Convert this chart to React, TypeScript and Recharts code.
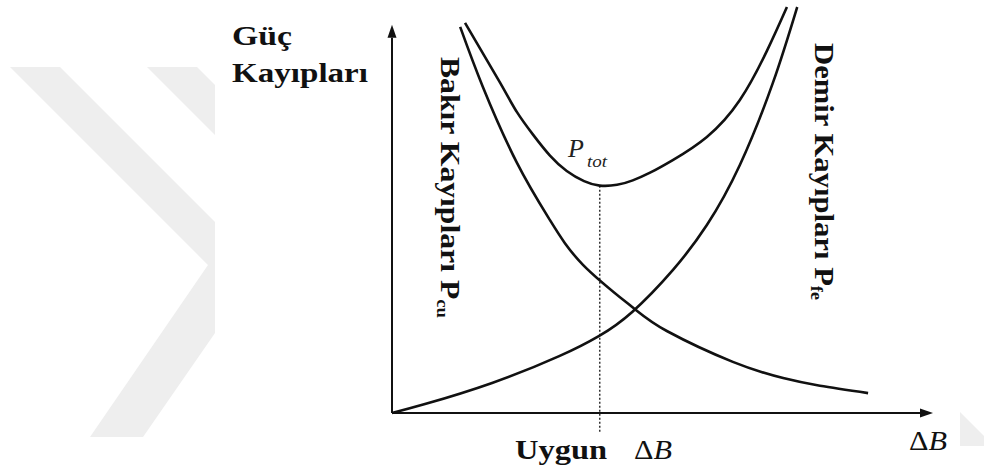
import React from "react";
import { LineChart, Line, XAxis, YAxis, ReferenceLine } from "recharts";

// ΔB along the horizontal axis (0-100) and losses up the vertical axis (0-100)
const copperX = [12.6, 16.8, 23.1, 29.2, 35.3, 44.4, 50.8, 63.0, 72.3, 79.1, 88.0];
const copperY = [95.1, 80.3, 61.6, 47.5, 36.5, 26.1, 20.2, 12.6, 8.6, 6.7, 4.9];

const ironX = [0, 6.1, 18.5, 30.9, 38.3, 44.4, 51.9, 58.2, 64.3, 70.4, 74.9];
const ironY = [0, 2.2, 7.4, 14.0, 19.0, 24.9, 35.2, 46.3, 61.1, 81.3, 100];

const totalX = [13.5, 20.0, 23.1, 26.1, 29.2, 32.3, 35.5, 38.4, 41.6, 44.5, 47.7, 51.9, 58.2, 64.3, 69.3, 73.0];
const totalY = [96.1, 81.3, 74.1, 68.5, 63.4, 59.6, 57.1, 56.0, 56.2, 57.3, 59.2, 62.3, 68.0, 77.1, 89.2, 100];

const optimumIndex = 7; // lowest point of P_tot
const yAxisTop = 95.6;
const xAxisEnd = 100;
const dottedBottom = -4.9;

const toPoints = (xs: number[], ys: number[]) => xs.map((x, i) => ({ x, y: ys[i] }));

const copperData = toPoints(copperX, copperY);
const ironData = toPoints(ironX, ironY);
const totalData = toPoints(totalX, totalY);

const INK = "#111";
const SERIF = '"Liberation Serif", "Times New Roman", serif';

// axis line with a filled arrow head at the far end
const ArrowLine = (props: any) => {
  const { x1, y1, x2, y2 } = props;
  const ang = Math.atan2(y2 - y1, x2 - x1);
  const len = 13;
  const half = 4.5;
  const bx = x2 - len * Math.cos(ang);
  const by = y2 - len * Math.sin(ang);
  const px = -Math.sin(ang) * half;
  const py = Math.cos(ang) * half;
  return (
    <g>
      <line x1={x1} y1={y1} x2={bx} y2={by} stroke={INK} strokeWidth={2} />
      <polygon
        points={`${x2},${y2} ${bx + px},${by + py} ${bx - px},${by - py}`}
        fill={INK}
      />
    </g>
  );
};

export default function App() {
  return (
    <div
      style={{
        position: "absolute",
        left: 0,
        top: 0,
        width: 984,
        height: 476,
        background: "#fff",
        fontFamily: SERIF,
      }}
    >
      {/* faint watermark behind the figure */}
      <svg width={984} height={476} style={{ position: "absolute", left: 0, top: 0 }}>
        <polygon points="10,67 60,67 215,222 215,333 143,437 90,437 208,265" fill="#eeeeee" />
        <polygon points="147,67 197,67 215,85 215,135" fill="#eeeeee" />
        <polygon points="960,412 984,436 984,446 960,446" fill="#eeeeee" />
      </svg>

      <div style={{ position: "absolute", left: 0, top: 0 }}>
        <LineChart
          width={984}
          height={476}
          margin={{ top: 7, right: 51, bottom: 63, left: 392 }}
        >
          <XAxis dataKey="x" type="number" domain={[0, 100]} hide />
          <YAxis type="number" domain={[0, 100]} hide />

          <ReferenceLine
            segment={[{ x: 0, y: 0 }, { x: xAxisEnd, y: 0 }]}
            shape={ArrowLine}
            ifOverflow="visible"
          />
          <ReferenceLine
            segment={[{ x: 0, y: 0 }, { x: 0, y: yAxisTop }]}
            shape={ArrowLine}
            ifOverflow="visible"
          />
          <ReferenceLine
            segment={[
              { x: totalX[optimumIndex], y: totalY[optimumIndex] },
              { x: totalX[optimumIndex], y: dottedBottom },
            ]}
            stroke="#333"
            strokeWidth={1.5}
            strokeDasharray="2 2"
            ifOverflow="visible"
          />

          <Line data={copperData} dataKey="y" type="natural" stroke={INK} strokeWidth={2.6} dot={false} isAnimationActive={false} />
          <Line data={ironData} dataKey="y" type="natural" stroke={INK} strokeWidth={2.6} dot={false} isAnimationActive={false} />
          <Line data={totalData} dataKey="y" type="natural" stroke={INK} strokeWidth={2.6} dot={false} isAnimationActive={false} />
        </LineChart>
      </div>

      <svg
        width={984}
        height={476}
        style={{ position: "absolute", left: 0, top: 0, pointerEvents: "none" }}
        fontFamily={SERIF}
        fill={INK}
      >
        <text x={232} y={45} fontSize={27} fontWeight="bold" textLength={60} lengthAdjust="spacingAndGlyphs">
          Güç
        </text>
        <text x={232} y={82} fontSize={27} fontWeight="bold" textLength={136} lengthAdjust="spacingAndGlyphs">
          Kayıpları
        </text>

        <text
          transform="translate(441,57) rotate(90)"
          fontSize={27}
          fontWeight="bold"
          textLength={261}
          lengthAdjust="spacingAndGlyphs"
        >
          Bakır Kayıpları P
          <tspan fontSize={16} dy={4}>cu</tspan>
        </text>
        <text
          transform="translate(815,43) rotate(90)"
          fontSize={27}
          fontWeight="bold"
          textLength={257}
          lengthAdjust="spacingAndGlyphs"
        >
          Demir Kayıpları P
          <tspan fontSize={16} dy={4}>fe</tspan>
        </text>

        <text x={568} y={157} fontSize={26} fontStyle="italic" fill="#222">
          P
        </text>
        <text x={587} y={167} fontSize={16} fontStyle="italic" fill="#222" textLength={20} lengthAdjust="spacingAndGlyphs">
          tot
        </text>

        <text x={515} y={459} fontSize={27} fontWeight="bold" textLength={92} lengthAdjust="spacingAndGlyphs">
          Uygun
        </text>
        <text x={634} y={459} fontSize={27} textLength={38} lengthAdjust="spacingAndGlyphs">
          Δ<tspan fontStyle="italic">B</tspan>
        </text>
        <text x={909} y={450} fontSize={27} textLength={38} lengthAdjust="spacingAndGlyphs">
          Δ<tspan fontStyle="italic">B</tspan>
        </text>
      </svg>
    </div>
  );
}
